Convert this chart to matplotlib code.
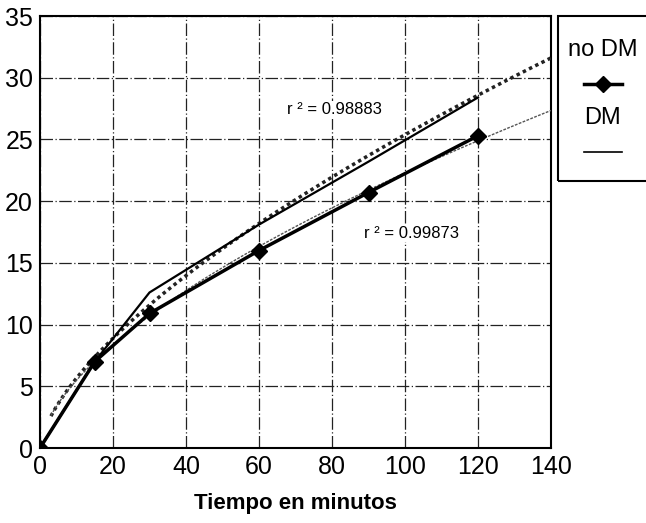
import numpy as np
import matplotlib
matplotlib.use("Agg")
import matplotlib.pyplot as plt
from matplotlib.lines import Line2D
from matplotlib.patches import Rectangle

plt.rcParams['font.family'] = ['Liberation Sans', 'DejaVu Sans']

time_min = [0, 15, 30, 60, 90, 120]
no_dm = [0, 7.0, 10.9, 16.0, 20.7, 25.3]
dm = [0, 7.0, 12.6, 18.1, 23.2, 28.4]
r2_dm = "r ² = 0.98883"
r2_nodm = "r ² = 0.99873"
x_ticks = [0, 20, 40, 60, 80, 100, 120, 140]
y_ticks = [0, 5, 10, 15, 20, 25, 30, 35]

def power_fit(x, y, x_start, x_end):
    x = np.asarray(x, float); y = np.asarray(y, float)
    m = x > 0
    b, lna = np.polyfit(np.log(x[m]), np.log(y[m]), 1)
    xs = np.linspace(x_start, x_end, 200)
    return xs, np.exp(lna) * xs ** b

W, H = 646, 523
fig = plt.figure(figsize=(W / 100, H / 100), dpi=100)
ax = fig.add_axes([40 / W, 1 - 448 / H, (551 - 40) / W, (448 - 16) / H])

ax.set_xlim(0, 140)
ax.set_ylim(0, 35)
ax.set_xticks(x_ticks)
ax.set_yticks(y_ticks)
ax.tick_params(length=0, labelsize=18, pad=5)
ax.grid(True, color='#222222', linestyle=(0, (10, 2, 1, 2)), linewidth=0.9)
for s in ax.spines.values():
    s.set_linewidth(1.5)
    s.set_color('black')

xs, ys = power_fit(time_min, dm, 3, 140)
ax.plot(xs, ys, color='#222222', linestyle=(0, (1, 1)), linewidth=2.5, zorder=3)
xs2, ys2 = power_fit(time_min, no_dm, 3, 140)
ax.plot(xs2, ys2, color='#555555', linestyle=(0, (2, 1)), linewidth=1.0, zorder=3)

ax.plot(time_min, dm, color='black', linewidth=1.6, zorder=4)
ax.plot(time_min, no_dm, color='black', linewidth=2.5, marker='D', markersize=8, zorder=5)

fig.text(287 / W, 1 - 110 / H, r2_dm, fontsize=12, va='center', ha='left',
         bbox=dict(facecolor='white', edgecolor='none', pad=1), zorder=6)
fig.text(364 / W, 1 - 233 / H, r2_nodm, fontsize=12, va='center', ha='left',
         bbox=dict(facecolor='white', edgecolor='none', pad=1), zorder=6)

ax.set_xlabel("Tiempo en minutos", fontsize=16, fontweight='bold', labelpad=10)

# legend box
fig.patches.append(Rectangle((558 / W, 1 - 181 / H), 100 / W, 165 / H, transform=fig.transFigure,
                             fill=False, edgecolor='black', linewidth=1.5))
fig.text(603 / W, 1 - 50 / H, "no DM", ha='center', va='center', fontsize=17)
fig.lines.append(Line2D([584 / W, 622 / W], [1 - 84 / H, 1 - 84 / H], transform=fig.transFigure,
                        color='black', linewidth=2.5))
fig.lines.append(Line2D([603 / W], [1 - 84 / H], transform=fig.transFigure,
                        color='black', marker='D', markersize=8))
fig.text(603 / W, 1 - 118 / H, "DM", ha='center', va='center', fontsize=17)
fig.lines.append(Line2D([584 / W, 622 / W], [1 - 152 / H, 1 - 152 / H], transform=fig.transFigure,
                        color='black', linewidth=1.2))

fig.savefig("out.png", dpi=100)
